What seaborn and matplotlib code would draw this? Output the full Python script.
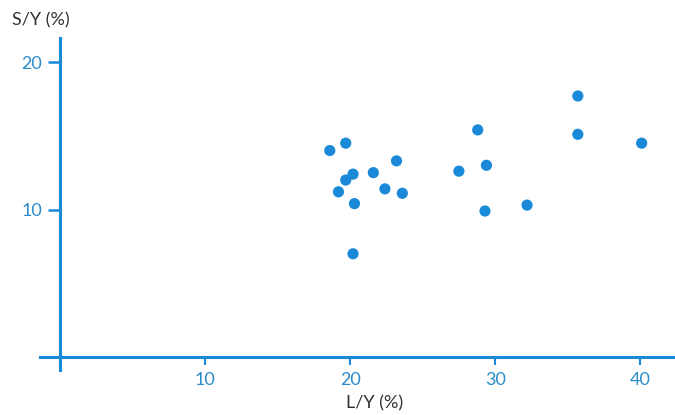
import matplotlib
matplotlib.use("Agg")
import matplotlib.pyplot as plt
import seaborn as sns
import pandas as pd

ly = [18.6, 19.7, 19.2, 19.7, 20.2, 20.3, 20.2, 21.6, 22.4, 23.2, 23.6,
      27.5, 28.8, 29.4, 29.3, 32.2, 35.7, 35.7, 40.1]
sy = [14.0, 14.5, 11.2, 12.0, 12.4, 10.4, 7.0, 12.5, 11.4, 13.3, 11.1,
      12.6, 15.4, 13.0, 9.9, 10.3, 17.7, 15.1, 14.5]
xticks = [10, 20, 30, 40]
yticks = [10, 20]

df = pd.DataFrame({"L/Y": ly, "S/Y": sy})

sns.set_style("white")
plt.rcParams["font.family"] = ["Lato", "DejaVu Sans"]

blue = "#1a8ad8"
tickblue = "#2a8cc8"

fig = plt.figure(figsize=(6.75, 4.15), dpi=100)
W, H = 675, 415
ax = fig.add_axes([40 / W, (H - 370) / H, (675 - 40) / W, (370 - 38) / H])

sns.scatterplot(data=df, x="L/Y", y="S/Y", ax=ax, color=blue, s=65,
                edgecolor="none", zorder=3)

ax.set_xlim(-1.38, 42.4)
ax.set_ylim(-0.88, 21.63)

for side in ["top", "right"]:
    ax.spines[side].set_visible(False)
ax.spines["left"].set_position(("data", 0))
ax.spines["bottom"].set_position(("data", 0))
for side in ["left", "bottom"]:
    ax.spines[side].set_color(blue)
    ax.spines[side].set_linewidth(2.2)

ax.set_xticks(xticks)
ax.set_yticks(yticks)
ax.tick_params(axis="x", bottom=True, direction="out", length=6, width=1.5,
               color=blue, labelcolor=tickblue, labelsize=13, pad=5)
ax.tick_params(axis="y", left=True, direction="out", length=9, width=1.8,
               color=blue, labelcolor=tickblue, labelsize=13, pad=4)

ax.set_xlabel("")
ax.set_ylabel("")
fig.text(12 / W, 1 - 20 / H, "S/Y (%)", fontsize=13, color="#333333",
         va="center", ha="left")
fig.text(375 / W, 1 - 403 / H, "L/Y (%)", fontsize=13, color="#333333",
         va="center", ha="center")

fig.savefig("out.png", dpi=100)
